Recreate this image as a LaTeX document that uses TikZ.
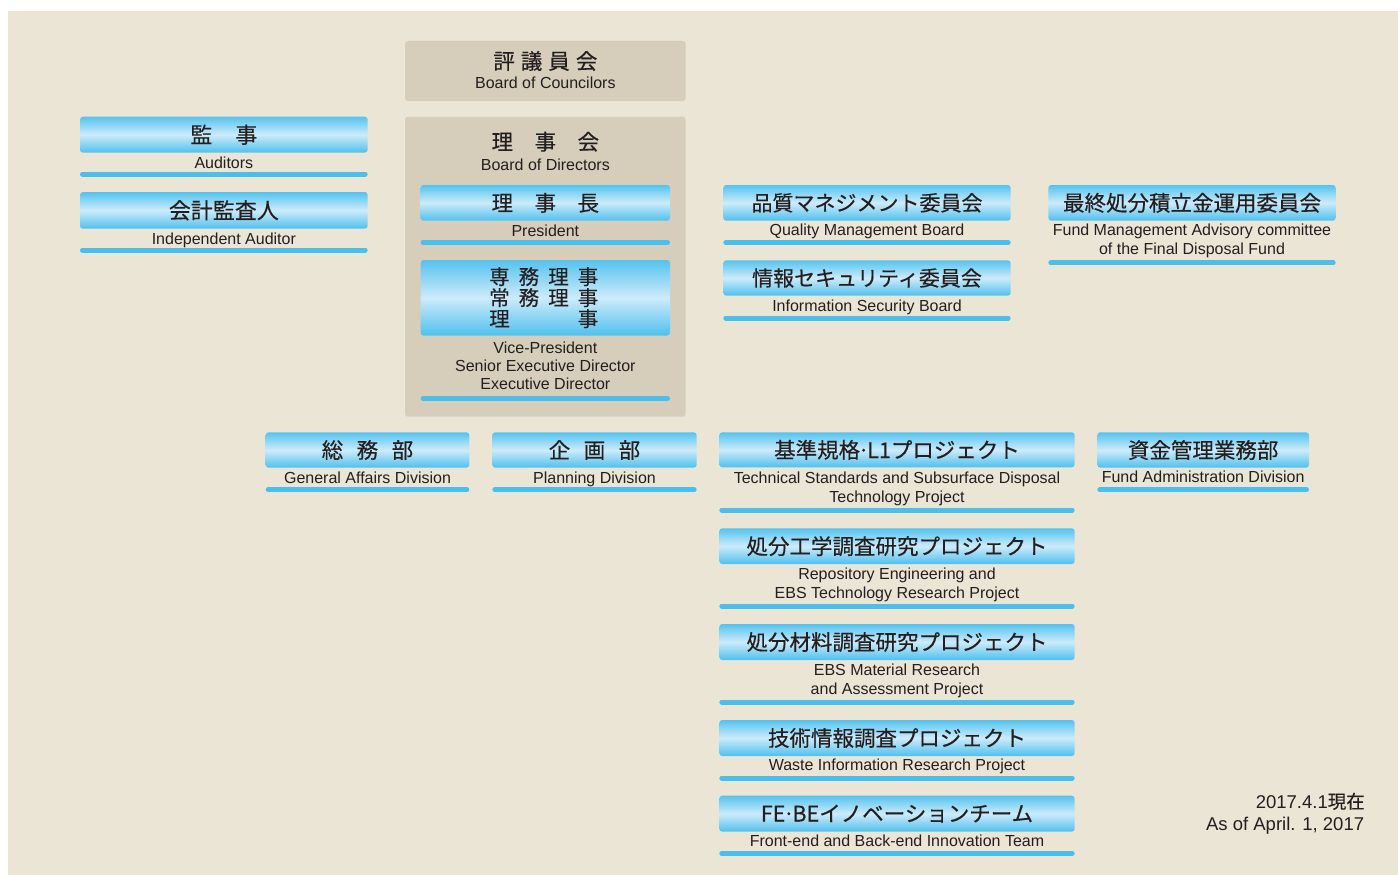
\documentclass[tikz,border=0pt]{standalone}
\usepackage{fontspec}
\setmainfont{Liberation Sans}
\newfontfamily\jp[FakeBold=0.35]{Noto Sans CJK JP}
\definecolor{bgc}{HTML}{EBE5D6}
\definecolor{greyc}{HTML}{D6CDBA}
\definecolor{btop}{HTML}{55C3EE}
\definecolor{bmid}{HTML}{CDEBFA}
\definecolor{bbot}{HTML}{4EC0EE}
\definecolor{barc}{HTML}{4BBFEC}
\definecolor{txt}{HTML}{231F20}
\newcommand\jdot{\kern-2.5pt·\kern-2.5pt}
\tikzset{
  bluebox/.style={rounded corners=3pt, top color=btop, bottom color=bbot, middle color=bmid, draw=none, inner sep=0pt, text=txt, font=\jp\fontsize{21.5}{24}\selectfont},
  greybox/.style={fill=greyc, rounded corners=3pt, draw=none, inner sep=0pt},
  bar/.style={line width=5pt, line cap=round, draw=barc},
  jt/.style={font=\jp\fontsize{21.5}{24}\selectfont, text=txt, inner sep=0pt},
  et/.style={font=\fontsize{16}{18.5}\selectfont, text=txt, inner sep=0pt, anchor=base},
  dt/.style={font=\fontsize{18.5}{21}\selectfont, text=txt, inner sep=0pt, anchor=base east},
}
\begin{document}
\begin{tikzpicture}[x=1pt,y=-1pt]
\useasboundingbox (0,0) rectangle (1398,875);
\fill[bgc] (7.5,10.7) rectangle (1398,875);

% Board of Councilors
\node[greybox, minimum width=280.7pt, minimum height=60pt] (councilors) at (545.35,71) {};
\node[jt] (councilorsj) at (545.35,61) {評\hspace{6pt}議\hspace{6pt}員\hspace{6pt}会};
\node[et] (councilorse) at (545.35,88.3) {Board of Councilors};

% Board of Directors
\node[greybox, minimum width=280.7pt, minimum height=300pt] (directors) at (545.35,266.7) {};
\node[jt] (directorsj) at (545.35,141.7) {理\hspace{21.5pt}事\hspace{21.5pt}会};
\node[et] (directorse) at (545.35,170) {Board of Directors};

% President
\node[bluebox, minimum width=249.3pt, minimum height=35.7pt] (pres) at (545.35,202.85) {理\hspace{21.5pt}事\hspace{21.5pt}長};
\node[et] (prese) at (545.35,236) {President};
\draw[bar] (423.2,242.5) -- (667.5,242.5);

% Vice-President etc.
\node[bluebox, minimum width=249.3pt, minimum height=75.7pt] (vp) at (545.35,297.85) {};
\node[font=\jp\fontsize{20.5}{21}\selectfont, text=txt, inner sep=0pt, align=center] (vpj) at (543.7,297.6)
  {\makebox[29.5pt]{専}\makebox[29.5pt]{務}\makebox[29.5pt]{理}\makebox[29.5pt]{事}\\
   \makebox[29.5pt]{常}\makebox[29.5pt]{務}\makebox[29.5pt]{理}\makebox[29.5pt]{事}\\
   \makebox[29.5pt]{理}\makebox[29.5pt]{}\makebox[29.5pt]{}\makebox[29.5pt]{事}};
\node[et] (vpe1) at (545.35,353.3) {Vice-President};
\node[et] (vpe2) at (545.35,371) {Senior Executive Director};
\node[et] (vpe3) at (545.35,389.3) {Executive Director};
\draw[bar] (423.2,398.5) -- (667.5,398.5);

% Auditors
\node[bluebox, font=\jp\fontsize{22}{24}\selectfont, minimum width=287.7pt, minimum height=36pt] (aud) at (223.85,134.7) {監\hspace{23pt}事};
\node[et] (aude) at (223.85,168) {Auditors};
\draw[bar] (82.5,174) -- (365.2,174);

% Independent Auditor
\node[bluebox, font=\jp\fontsize{22}{24}\selectfont, minimum width=287.7pt, minimum height=36.7pt] (ind) at (223.85,210.35) {会計監査人};
\node[et] (inde) at (223.85,244) {Independent Auditor};
\draw[bar] (82.5,250) -- (365.2,250);

% Quality Management Board
\node[bluebox, font=\jp\fontsize{21}{24}\selectfont, minimum width=287.4pt, minimum height=35.7pt] (qmb) at (867,202.85) {品質マネジメント委員会};
\node[et] (qmbe) at (867,235) {Quality Management Board};
\draw[bar] (725.8,242.5) -- (1008.2,242.5);

% Information Security Board
\node[bluebox, font=\jp\fontsize{21}{24}\selectfont, minimum width=287.4pt, minimum height=35.4pt] (isb) at (867,278) {情報セキュリティ委員会};
\node[et] (isbe) at (867,311.7) {Information Security Board};
\draw[bar] (725.8,318) -- (1008.2,318);

% Fund Management Advisory committee
\node[bluebox, minimum width=287.4pt, minimum height=35.7pt] (fmac) at (1192,202.85) {最終処分積立金運用委員会};
\node[et] (fmace1) at (1192,235.5) {Fund Management Advisory committee};
\node[et] (fmace2) at (1192,254.5) {of the Final Disposal Fund};
\draw[bar] (1050.8,262.7) -- (1333.2,262.7);

% General Affairs Division
\node[bluebox, minimum width=203.6pt, minimum height=35.4pt] (gad) at (367.5,450) {総\hspace{13.5pt}務\hspace{13.5pt}部};
\node[et] (gade) at (367.5,483.3) {General Affairs Division};
\draw[bar] (268.2,489.8) -- (466.8,489.8);

% Planning Division
\node[bluebox, minimum width=204.4pt, minimum height=35.4pt] (pd) at (594.5,450) {企\hspace{13.5pt}画\hspace{13.5pt}部};
\node[et] (pde) at (594.5,483.3) {Planning Division};
\draw[bar] (494.8,489.8) -- (694.2,489.8);

% Technical Standards
\node[bluebox, minimum width=355.4pt, minimum height=35pt] (tsd) at (897,449.8) {基準規格\jdot L1プロジェクト};
\node[et] (tsde1) at (897,483.3) {Technical Standards and Subsurface Disposal};
\node[et] (tsde2) at (897,502.3) {Technology Project};
\draw[bar] (721.8,510) -- (1072.2,510);

% Repository Engineering
\node[bluebox, minimum width=355.4pt, minimum height=35.7pt] (re) at (897,546.15) {処分工学調査研究プロジェクト};
\node[et] (ree1) at (897,579.3) {Repository Engineering and};
\node[et] (ree2) at (897,598.3) {EBS Technology Research Project};
\draw[bar] (721.8,606) -- (1072.2,606);

% EBS Material
\node[bluebox, minimum width=355.4pt, minimum height=36pt] (ebs) at (897,642) {処分材料調査研究プロジェクト};
\node[et] (ebse1) at (897,675) {EBS Material Research};
\node[et] (ebse2) at (897,694) {and Assessment Project};
\draw[bar] (721.8,702) -- (1072.2,702);

% Waste Information
\node[bluebox, minimum width=355.4pt, minimum height=36pt] (wir) at (897,738) {技術情報調査プロジェクト};
\node[et] (wire) at (897,770.7) {Waste Information Research Project};
\draw[bar] (721.8,778) -- (1072.2,778);

% FE-BE Innovation Team
\node[bluebox, minimum width=355.4pt, minimum height=36pt] (fbi) at (897,813.7) {FE\jdot BEイノベーションチーム};
\node[et] (fbie) at (897,846.7) {Front-end and Back-end Innovation Team};
\draw[bar] (721.8,853.5) -- (1072.2,853.5);

% Fund Administration Division
\node[bluebox, minimum width=211.7pt, minimum height=35.4pt] (fad) at (1203.15,450) {資金管理業務部};
\node[et] (fade) at (1203.15,482.5) {Fund Administration Division};
\draw[bar] (1099.8,489.8) -- (1306.5,489.8);

% Date
\node[dt] (date1) at (1365,808.3) {2017.4.1{\jp 現在}};
\node[dt] (date2) at (1364.3,830) {As of April. 1, 2017};
\end{tikzpicture}
\end{document}
